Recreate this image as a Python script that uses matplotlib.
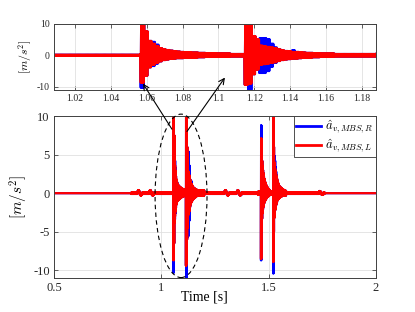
import numpy as np
import matplotlib
matplotlib.use("Agg")
import matplotlib.pyplot as plt
from matplotlib.patches import Ellipse, ConnectionPatch

plt.rcParams['font.family'] = ['Liberation Serif', 'DejaVu Serif']
plt.rcParams['mathtext.fontset'] = 'cm'

# ---- data ----
t_start, t_end, dt = 0.5, 2.0, 0.00025

# quiet baseline: segment edges [s] and oscillation amplitude
quiet_edges = [0.5, 0.86, 1.056, 1.2, 1.45, 1.58, 1.76, 2.0]
quiet_amp = [0.0, 0.1, 0.35, 0.1, 0.2, 0.1, 0.0]

# impact bursts: onset [s], envelope per 2 ms step
burst_t0 = [1.0565, 1.1145, 1.464, 1.521]
env_step = 0.002

R_up = [
    [10.5, 7.5, 4.5, 4.2, 3.3, 2.2, 1.8, 1.6, 1.4, 1.2, 1.1, 1.0, 0.9, 0.9, 0.8, 0.8, 0.7, 0.7, 0.6, 0.6, 0.6, 0.5, 0.5, 0.5, 0.5],
    [10.5, 10.5, 6.0, 5.0, 5.4, 5.4, 5.0, 3.6, 2.4, 1.8, 1.5, 1.3, 1.2, 1.5, 1.0, 0.9, 0.8, 0.7, 0.7, 0.6, 0.6, 0.5, 0.5, 0.5, 0.5],
    [8.8, 5.5, 4.2, 3.5, 3.0, 2.6, 2.2, 1.9, 1.7, 1.5, 1.3, 1.1, 1.0, 0.9, 0.8, 0.7, 0.6, 0.5, 0.5, 0.4],
    [10.5, 6.0, 4.8, 4.8, 4.2, 3.4, 2.8, 2.3, 1.9, 1.7, 1.5, 1.3, 1.2, 1.0, 0.9, 0.8, 0.8, 0.7, 0.7, 0.6, 0.6, 0.5, 0.5, 0.5, 0.4, 0.4, 0.4, 0.3, 0.3, 0.3],
]
R_dn = [
    [10.3, 6.5, 3.8, 3.4, 2.6, 1.9, 1.5, 1.3, 1.1, 1.0, 0.9, 0.9, 0.8, 0.8, 0.7, 0.7, 0.6, 0.6, 0.5, 0.5, 0.5, 0.5, 0.4, 0.4, 0.4],
    [9.4, 11.0, 6.0, 4.5, 5.6, 5.6, 5.0, 3.6, 2.4, 1.8, 1.5, 1.3, 1.2, 1.0, 1.0, 0.9, 0.8, 0.7, 0.7, 0.6, 0.6, 0.5, 0.5, 0.5, 0.4],
    [8.7, 4.8, 3.3, 2.6, 2.1, 1.8, 1.5, 1.3, 1.1, 1.0, 0.9, 0.8, 0.7, 0.6, 0.5, 0.5, 0.4, 0.4, 0.3, 0.3],
    [10.4, 5.0, 3.2, 2.6, 2.2, 1.9, 1.6, 1.4, 1.2, 1.0, 0.9, 0.8, 0.7, 0.7, 0.6, 0.6, 0.5, 0.5, 0.4, 0.4, 0.4, 0.3, 0.3, 0.3, 0.3, 0.3, 0.3, 0.3, 0.3, 0.3],
]
L_up = [
    [10.5, 7.5, 4.5, 3.6, 2.9, 2.2, 1.8, 1.6, 1.4, 1.2, 1.1, 1.0, 0.9, 0.9, 0.8, 0.8, 0.7, 0.7, 0.6, 0.6, 0.6, 0.5, 0.5, 0.5, 0.5],
    [10.5, 10.5, 6.0, 5.0, 3.0, 2.8, 2.6, 2.4, 2.2, 1.8, 1.5, 1.3, 1.2, 1.0, 1.0, 0.9, 0.8, 0.7, 0.7, 0.6, 0.6, 0.5, 0.5, 0.5, 0.5],
    [7.1, 5.5, 4.2, 3.5, 3.0, 2.6, 2.2, 1.9, 1.7, 1.5, 1.3, 1.1, 1.0, 0.9, 0.8, 0.7, 0.6, 0.5, 0.5, 0.4],
    [10.5, 6.0, 4.0, 3.5, 3.2, 2.8, 2.5, 2.2, 1.9, 1.7, 1.5, 1.3, 1.2, 1.0, 0.9, 0.8, 0.8, 0.7, 0.7, 0.6, 0.6, 0.5, 0.5, 0.5, 0.4, 0.4, 0.4, 0.3, 0.3, 0.3],
]
L_dn = [
    [8.7, 6.5, 3.8, 3.0, 2.4, 1.9, 1.5, 1.3, 1.1, 1.0, 0.9, 0.9, 0.8, 0.8, 0.7, 0.7, 0.6, 0.6, 0.5, 0.5, 0.5, 0.5, 0.4, 0.4, 0.4],
    [9.4, 9.0, 6.0, 4.5, 3.0, 2.8, 2.6, 2.4, 2.2, 1.8, 1.5, 1.3, 1.2, 1.0, 1.0, 0.9, 0.8, 0.7, 0.7, 0.6, 0.6, 0.5, 0.5, 0.5, 0.4],
    [8.5, 4.8, 3.3, 2.6, 2.1, 1.8, 1.5, 1.3, 1.1, 1.0, 0.9, 0.8, 0.7, 0.6, 0.5, 0.5, 0.4, 0.4, 0.3, 0.3],
    [8.9, 5.0, 3.2, 2.6, 2.2, 1.9, 1.6, 1.4, 1.2, 1.0, 0.9, 0.8, 0.7, 0.7, 0.6, 0.6, 0.5, 0.5, 0.4, 0.4, 0.4, 0.3, 0.3, 0.3, 0.3, 0.3, 0.3, 0.3, 0.3, 0.3],
]

# small low-frequency bumps: start [s], scale, shape per 3 ms step
bump_t = [0.885, 0.94, 1.29, 1.348, 1.73]
bump_amp = [1.0, 1.0, 1.0, 1.0, 0.6]
bump_step = 0.003
bump_shape = [0.0, 0.15, 0.3, 0.25, 0.1, -0.1, -0.2, -0.15, -0.05, 0.0]

top_xticks = [1.02, 1.04, 1.06, 1.08, 1.1, 1.12, 1.14, 1.16, 1.18]
top_xlabels = ['1.02', '1.04', '1.06', '1.08', '1.1', '1.12', '1.14', '1.16', '1.18']
top_yticks = [-10, 0, 10]
bot_xticks = [0.5, 1, 1.5, 2]
bot_xlabels = ['0.5', '1', '1.5', '2']
bot_yticks = [-10, -5, 0, 5, 10]

t = np.arange(t_start, t_end + dt / 2, dt)
sign = np.where(np.arange(len(t)) % 2 == 0, 1.0, -1.0)


def build(up_lists, dn_lists):
    up = np.zeros_like(t)
    dn = np.zeros_like(t)
    for a, b, amp in zip(quiet_edges[:-1], quiet_edges[1:], quiet_amp):
        m = (t >= a) & (t < b)
        up[m] = amp
        dn[m] = amp
    for t0, u, d in zip(burst_t0, up_lists, dn_lists):
        for k, (uu, dd) in enumerate(zip(u, d)):
            m = (t >= t0 + k * env_step) & (t < t0 + (k + 1) * env_step)
            up[m] = uu
            dn[m] = dd
    y = np.where(sign > 0, up, -dn)
    for tb, ab in zip(bump_t, bump_amp):
        for k, v in enumerate(bump_shape):
            m = (t >= tb + k * bump_step) & (t < tb + (k + 1) * bump_step)
            y[m] += ab * v
    return y


yR = build(R_up, R_dn)
yL = build(L_up, L_dn)

fig = plt.figure(figsize=(4.15, 3.12), dpi=100)
ax1 = fig.add_axes([0.130, 0.712, 0.776, 0.212])
ax2 = fig.add_axes([0.130, 0.109, 0.776, 0.519])


def style(ax, fs):
    ax.grid(True, color='0.88', lw=0.6)
    ax.set_axisbelow(True)
    ax.tick_params(direction='in', top=True, right=True, length=3, width=0.5,
                   labelsize=fs, pad=3, colors='0.15', labelcolor='0.15')
    for s in ax.spines.values():
        s.set_color('0.25')
        s.set_linewidth(0.7)


ax1.plot(t, yR, color='blue', lw=1.8)
ax1.plot(t, yL, color='red', lw=1.8)
ax1.set_xlim(1.0083, 1.1878)
ax1.set_ylim(-11, 10)
ax1.set_xticks(top_xticks)
ax1.set_xticklabels(top_xlabels)
ax1.set_yticks(top_yticks)
ax1.set_yticklabels([str(v) for v in top_yticks])
ax1.set_ylabel(r'$[m/s^2]$', fontsize=8.5, labelpad=2)
style(ax1, 7)

ax2.plot(t, yR, color='blue', lw=1.6, label=r'$\hat{a}_{v,MBS,R}$')
ax2.plot(t, yL, color='red', lw=1.6, label=r'$\hat{a}_{v,MBS,L}$')
ax2.set_xlim(0.5, 2)
ax2.set_ylim(-11, 10)
ax2.set_xticks(bot_xticks)
ax2.set_xticklabels(bot_xlabels)
ax2.set_yticks(bot_yticks)
ax2.set_yticklabels([str(v) for v in bot_yticks])
ax2.set_ylabel(r'$[m/s^2]$', fontsize=11, labelpad=2)
ax2.set_xlabel('Time [s]', fontsize=10)
ax2.xaxis.set_label_coords(0.466, -0.075)
style(ax2, 9)

leg = ax2.legend(loc='upper right', fontsize=9, borderaxespad=0, fancybox=False,
                 edgecolor='0.2', framealpha=1, handlelength=2.0, borderpad=0.2,
                 labelspacing=0.15, handletextpad=0.3)
leg.get_frame().set_linewidth(0.6)
for h in leg.legend_handles:
    h.set_linewidth(2)

ax2.add_patch(Ellipse((1.092, -0.35), 0.242, 21.2, fill=False, ls=(0, (4, 3)),
                      ec='black', lw=0.8, clip_on=False, zorder=5))

for tail, head in [((1.0496, 8.3), (1.0579, -9.0)), ((1.1195, 8.0), (1.1036, -7.1))]:
    fig.add_artist(ConnectionPatch(xyA=tail, coordsA=ax2.transData,
                                   xyB=head, coordsB=ax1.transData,
                                   arrowstyle='->', color='black', lw=0.8,
                                   mutation_scale=10, zorder=10))

fig.savefig('out.png', dpi=100)
